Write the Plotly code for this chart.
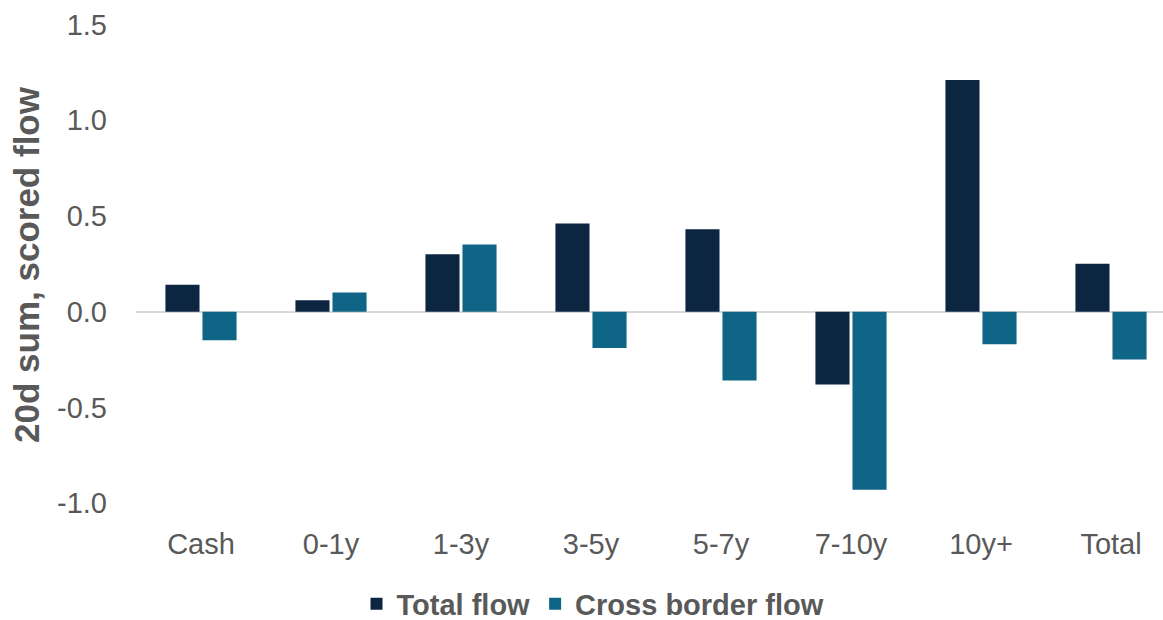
import plotly.graph_objects as go

categories = ["Cash", "0-1y", "1-3y", "3-5y", "5-7y", "7-10y", "10y+", "Total"]
total_flow = [0.14, 0.06, 0.30, 0.46, 0.43, -0.38, 1.21, 0.25]
cross_border_flow = [-0.15, 0.10, 0.35, -0.19, -0.36, -0.93, -0.17, -0.25]
y_ticks = [-1.0, -0.5, 0.0, 0.5, 1.0, 1.5]

GRAY = "#595959"
FONT = "Liberation Sans, Arial, sans-serif"

fig = go.Figure()
fig.add_trace(go.Bar(x=categories, y=total_flow, name="Total flow",
                     marker=dict(color="#0c2541", line=dict(width=0))))
fig.add_trace(go.Bar(x=categories, y=cross_border_flow, name="Cross border flow",
                     marker=dict(color="#0e6585", line=dict(width=0))))

fig.update_layout(
    width=1163, height=620,
    margin=dict(l=136, r=0, t=10, b=100),
    paper_bgcolor="white", plot_bgcolor="white",
    barmode="group", bargap=0.43, bargroupgap=0.08,
    font=dict(family=FONT, color=GRAY, size=29),
    showlegend=True,
    legend=dict(orientation="h", x=0.445, xanchor="center",
                yref="container", y=0.026, yanchor="middle",
                font=dict(size=29, color=GRAY, family=FONT, weight="bold"),
                itemwidth=30, traceorder="normal"),
)
fig.update_xaxes(
    range=[-0.5, 7.4], showgrid=False, showline=False, zeroline=False, automargin=False,
    tickfont=dict(size=29, color=GRAY), ticks="", ticklabelstandoff=4,
)
fig.update_yaxes(
    range=[-1.088, 1.575], tickvals=y_ticks, ticktext=[f"{v:.1f}" for v in y_ticks],
    showgrid=False, showline=False, zeroline=True, zerolinecolor="#d9d9d9", zerolinewidth=2,
    automargin=False,
    tickfont=dict(size=29, color=GRAY), ticks="", ticklabelstandoff=28,
    title=dict(text="20d sum, scored flow", font=dict(size=35, color=GRAY, family=FONT, weight="bold"),
               standoff=6),
)

fig.write_html("out.html")
